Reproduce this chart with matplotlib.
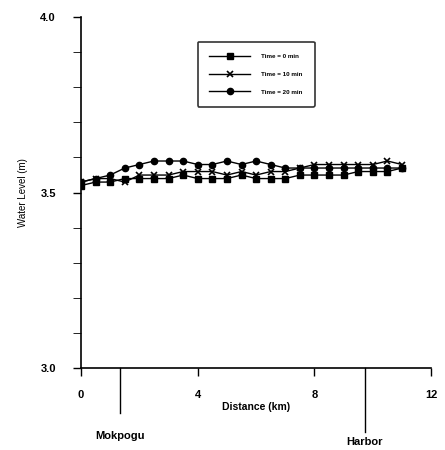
import matplotlib
matplotlib.use('Agg')
import matplotlib.pyplot as plt
import numpy as np
from matplotlib import rcParams

rcParams['font.family'] = 'Liberation Sans'
rcParams['font.weight'] = 'bold'

# distance along channel (km)
dist = [0, 0.5, 1, 1.5, 2, 2.5, 3, 3.5, 4, 4.5, 5, 5.5, 6, 6.5, 7, 7.5, 8, 8.5, 9, 9.5, 10, 10.5, 11]
# water levels (m)
wl_0 = [3.52, 3.53, 3.53, 3.54, 3.54, 3.54, 3.54, 3.55, 3.54, 3.54, 3.54, 3.55, 3.54, 3.54, 3.54,
        3.55, 3.55, 3.55, 3.55, 3.56, 3.56, 3.56, 3.57]
wl_10 = [3.53, 3.54, 3.54, 3.53, 3.55, 3.55, 3.55, 3.56, 3.56, 3.56, 3.55, 3.56, 3.55, 3.56, 3.56,
         3.57, 3.58, 3.58, 3.58, 3.58, 3.58, 3.59, 3.58]
wl_20 = [3.53, 3.54, 3.55, 3.57, 3.58, 3.59, 3.59, 3.59, 3.58, 3.58, 3.59, 3.58, 3.59, 3.58, 3.57,
         3.57, 3.57, 3.57, 3.57, 3.57, 3.57, 3.57, 3.57]
labels = ['Time = 0 min', 'Time = 10 min', 'Time = 20 min']
places = ['Mokpogu', 'Harbor']
place_x = [1.34, 9.73]

fig = plt.figure(figsize=(4.45, 4.5), dpi=100)
ax = fig.add_axes([0.182, 0.182, 0.787, 0.78])

ax.plot(dist, wl_0, color='k', lw=1, marker='s', ms=4, label=labels[0])
ax.plot(dist, wl_10, color='k', lw=1, marker='x', ms=5, mew=1.2, label=labels[1])
ax.plot(dist, wl_20, color='k', lw=1, marker='o', ms=4.5, label=labels[2])

ax.set_xlim(0, 12)
ax.set_ylim(3.0, 4.0)
ax.set_xticks([0, 4, 8, 12])
ax.set_yticks([3.0, 3.5, 4.0])
ax.set_yticks(np.arange(3.0, 4.01, 0.1), minor=True)
ax.set_yticklabels(['3.0', '3.5', '4.0'])
ax.tick_params(axis='both', direction='out', labelsize=8, width=1)
ax.tick_params(axis='x', length=6, pad=10)
ax.tick_params(axis='y', which='both', length=6, pad=12)
for s in ['top', 'right']:
    ax.spines[s].set_visible(False)
for s in ['left', 'bottom']:
    ax.spines[s].set_linewidth(1.2)

ax.set_ylabel('Water Level (m)', fontsize=7, labelpad=9)
ax.text(6, 2.89, 'Distance (km)', ha='center', va='center', fontsize=7.5)

# station markers below the axis
bottoms = [2.872, 2.818]
text_y = [2.806, 2.79]
for px, yb, yt, name in zip(place_x, bottoms, text_y, places):
    ax.plot([px, px], [3.0, yb], color='k', lw=1, clip_on=False)
    ax.text(px, yt, name, ha='center', va='center', fontsize=8)

leg = ax.legend(loc='upper left', bbox_to_anchor=(0.333, 0.93), fontsize=4.5,
                handlelength=6.5, handletextpad=1.8, borderpad=1.9, labelspacing=2.0,
                borderaxespad=0, frameon=True, fancybox=True)
leg.get_frame().set_edgecolor('k')
leg.get_frame().set_linewidth(1.2)

fig.savefig('out.png', dpi=100)
